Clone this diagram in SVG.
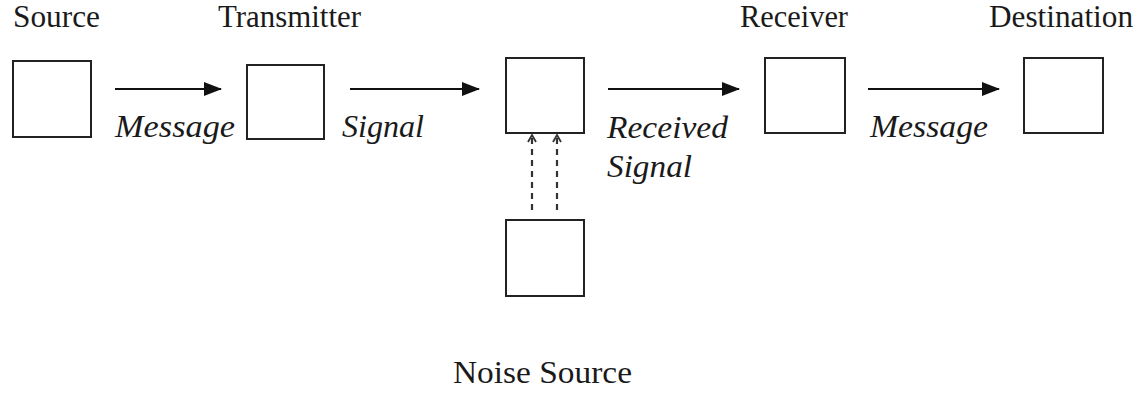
<svg xmlns="http://www.w3.org/2000/svg" width="1145" height="394" viewBox="0 0 1145 394">
<defs>
<marker id="ah" markerWidth="18" markerHeight="14" refX="17" refY="7" orient="auto" markerUnits="userSpaceOnUse">
<path d="M0,0 L18,7 L0,14 Z" fill="#111"/>
</marker>
<marker id="oh" markerWidth="10" markerHeight="10" refX="9" refY="5" orient="auto" markerUnits="userSpaceOnUse">
<path d="M2,1 L9,5 L2,9" fill="none" stroke="#333" stroke-width="1.8"/>
</marker>
<style>
.box{fill:#fff;stroke:#222;stroke-width:2}
.t{font-family:"Times New Roman","Liberation Serif",serif;font-size:31px;fill:#1a1a1a}
.i{font-family:"Times New Roman","Liberation Serif",serif;font-size:32px;font-style:italic;fill:#1a1a1a}
.a{stroke:#111;stroke-width:2;fill:none;marker-end:url(#ah)}
.d{stroke:#333;stroke-width:2.2;stroke-dasharray:6 5;fill:none;marker-end:url(#oh)}
</style>
</defs>
<rect width="1145" height="394" fill="#fff"/>
<g id="source">
<rect class="box" x="13" y="61" width="78" height="76"/>
<text class="t" x="13" y="27" textLength="87" lengthAdjust="spacingAndGlyphs">Source</text>
</g>
<g id="transmitter">
<rect class="box" x="247" y="65" width="77" height="74"/>
<text class="t" x="218" y="27" textLength="143" lengthAdjust="spacingAndGlyphs">Transmitter</text>
</g>
<g id="channel">
<rect class="box" x="506" y="58" width="78" height="75"/>
</g>
<g id="noise">
<rect class="box" x="506" y="220" width="78" height="76"/>
<text class="t" x="453" y="383" textLength="179" lengthAdjust="spacingAndGlyphs">Noise Source</text>
</g>
<g id="receiver">
<rect class="box" x="765" y="58" width="80" height="75"/>
<text class="t" x="740" y="27" textLength="108" lengthAdjust="spacingAndGlyphs">Receiver</text>
</g>
<g id="destination">
<rect class="box" x="1024" y="58" width="79" height="75"/>
<text class="t" x="989" y="27" textLength="144" lengthAdjust="spacingAndGlyphs">Destination</text>
</g>
<g id="connectors">
<line class="a" x1="115" y1="89" x2="221" y2="89"/>
<line class="a" x1="350" y1="89" x2="479" y2="89"/>
<line class="a" x1="608" y1="89" x2="739" y2="89"/>
<line class="a" x1="868" y1="89" x2="999" y2="89"/>
<line class="d" x1="532" y1="210" x2="532" y2="135"/>
<line class="d" x1="557" y1="210" x2="557" y2="135"/>
<text class="i" x="115" y="137" textLength="120" lengthAdjust="spacingAndGlyphs">Message</text>
<text class="i" x="342" y="137" textLength="82" lengthAdjust="spacingAndGlyphs">Signal</text>
<text class="i" x="607" y="138" textLength="121" lengthAdjust="spacingAndGlyphs">Received</text>
<text class="i" x="607" y="177" textLength="85" lengthAdjust="spacingAndGlyphs">Signal</text>
<text class="i" x="870" y="137" textLength="118" lengthAdjust="spacingAndGlyphs">Message</text>
</g>
</svg>
